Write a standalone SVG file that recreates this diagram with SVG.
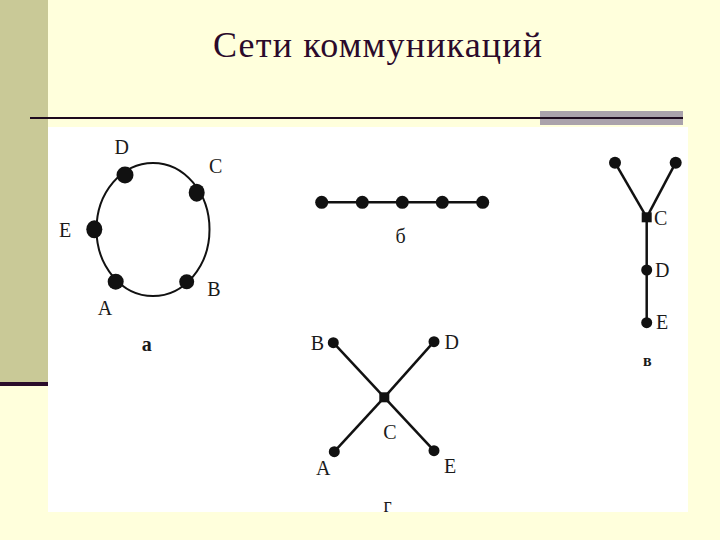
<svg xmlns="http://www.w3.org/2000/svg" width="720" height="540" viewBox="0 0 720 540">
<style>
.title{font-family:"Liberation Serif","DejaVu Serif",serif;font-size:36px;fill:#2B0A2B}
.lbl{font-family:"Liberation Serif","DejaVu Serif",serif;font-size:20px;fill:#1a1a1a}
.cap{font-family:"Liberation Serif","DejaVu Serif",serif;font-size:20px;font-weight:bold;fill:#1a1a1a;text-anchor:middle}
.mid{text-anchor:middle}
.dot{fill:#111}
.edge{stroke:#111;stroke-width:2.5;fill:none}
</style>
<rect x="0" y="0" width="720" height="540" fill="#FFFFDC"/>
<rect x="0" y="0" width="48" height="382" fill="#C9C997"/>
<rect x="0" y="382" width="48" height="4" fill="#2A0D2A"/>
<rect x="48" y="127" width="640" height="385" fill="#FFFFFF"/>
<rect x="540" y="111" width="143" height="14" fill="#AAA2AB"/>
<line x1="30" y1="118" x2="683" y2="118" stroke="#1E0A1E" stroke-width="2.2"/>
<text class="title" x="213" y="57" textLength="329" lengthAdjust="spacing">Сети коммуникаций</text>

<g id="connectors">
  <ellipse cx="153" cy="229.5" rx="56.5" ry="66.5" stroke="#111" stroke-width="2" fill="none"/>
  <line class="edge" x1="321.7" y1="202.3" x2="482.7" y2="202.3"/>
  <line class="edge" x1="615" y1="162.7" x2="646.7" y2="217.3"/>
  <line class="edge" x1="675.7" y1="162.7" x2="646.7" y2="217.3"/>
  <line class="edge" x1="646.7" y1="217.3" x2="646.7" y2="322.7"/>
  <line class="edge" x1="333.3" y1="342.7" x2="384.3" y2="397.3" stroke-width="2"/>
  <line class="edge" x1="434" y1="341.7" x2="384.3" y2="397.3" stroke-width="2"/>
  <line class="edge" x1="334.3" y1="451.7" x2="384.3" y2="397.3" stroke-width="2"/>
  <line class="edge" x1="434" y1="450.7" x2="384.3" y2="397.3" stroke-width="2"/>
</g>

<g id="ring">
  <g id="ring-D"><circle class="dot" cx="125" cy="175" r="8.5"/><text class="lbl mid" x="121.7" y="154">D</text></g>
  <g id="ring-C"><ellipse class="dot" cx="196.7" cy="192.7" rx="8" ry="9"/><text class="lbl mid" x="215.7" y="173">C</text></g>
  <g id="ring-E"><ellipse class="dot" cx="94.3" cy="229.3" rx="8" ry="9"/><text class="lbl mid" x="65" y="237">E</text></g>
  <g id="ring-A"><circle class="dot" cx="115.7" cy="281.7" r="8"/><text class="lbl mid" x="105" y="315">A</text></g>
  <g id="ring-B"><circle class="dot" cx="186.7" cy="281.7" r="7.5"/><text class="lbl mid" x="214" y="295.7">B</text></g>
  <text class="cap" x="146.7" y="350.7">а</text>
</g>

<g id="chain">
  <g id="chain-1"><circle class="dot" cx="321.7" cy="202.3" r="6.5"/></g>
  <g id="chain-2"><circle class="dot" cx="362.3" cy="202.3" r="6.5"/></g>
  <g id="chain-3"><circle class="dot" cx="402.3" cy="202.3" r="6.5"/></g>
  <g id="chain-4"><circle class="dot" cx="442.3" cy="202.3" r="6.5"/></g>
  <g id="chain-5"><circle class="dot" cx="482.7" cy="202.3" r="6.5"/></g>
  <text class="lbl mid" x="400.7" y="242.7">б</text>
</g>

<g id="ytree">
  <g id="y-left"><circle class="dot" cx="615" cy="162.7" r="6"/></g>
  <g id="y-right"><circle class="dot" cx="675.7" cy="162.7" r="6"/></g>
  <g id="y-C"><rect class="dot" x="641.7" y="212.3" width="10" height="10"/><text class="lbl" x="654" y="225">C</text></g>
  <g id="y-D"><circle class="dot" cx="646.7" cy="270" r="5.5"/><text class="lbl" x="655" y="276.5">D</text></g>
  <g id="y-E"><circle class="dot" cx="646.7" cy="322.7" r="5.5"/><text class="lbl" x="656" y="329">E</text></g>
  <text class="cap" x="647.3" y="365.7" style="font-size:16px">в</text>
</g>

<g id="xtree">
  <g id="x-B"><circle class="dot" cx="333.3" cy="342.7" r="5.5"/><text class="lbl mid" x="317.5" y="350">B</text></g>
  <g id="x-D"><circle class="dot" cx="434" cy="341.7" r="5.5"/><text class="lbl mid" x="451.7" y="348.5">D</text></g>
  <g id="x-C"><rect class="dot" x="379.3" y="392.3" width="10" height="10"/><text class="lbl mid" x="390" y="439.3">C</text></g>
  <g id="x-A"><circle class="dot" cx="334.3" cy="451.7" r="5.5"/><text class="lbl mid" x="323.3" y="475">A</text></g>
  <g id="x-E"><circle class="dot" cx="434" cy="450.7" r="5.5"/><text class="lbl mid" x="450" y="472.7">E</text></g>
  <text class="lbl mid" x="387.7" y="511.5">г</text>
</g>
</svg>
